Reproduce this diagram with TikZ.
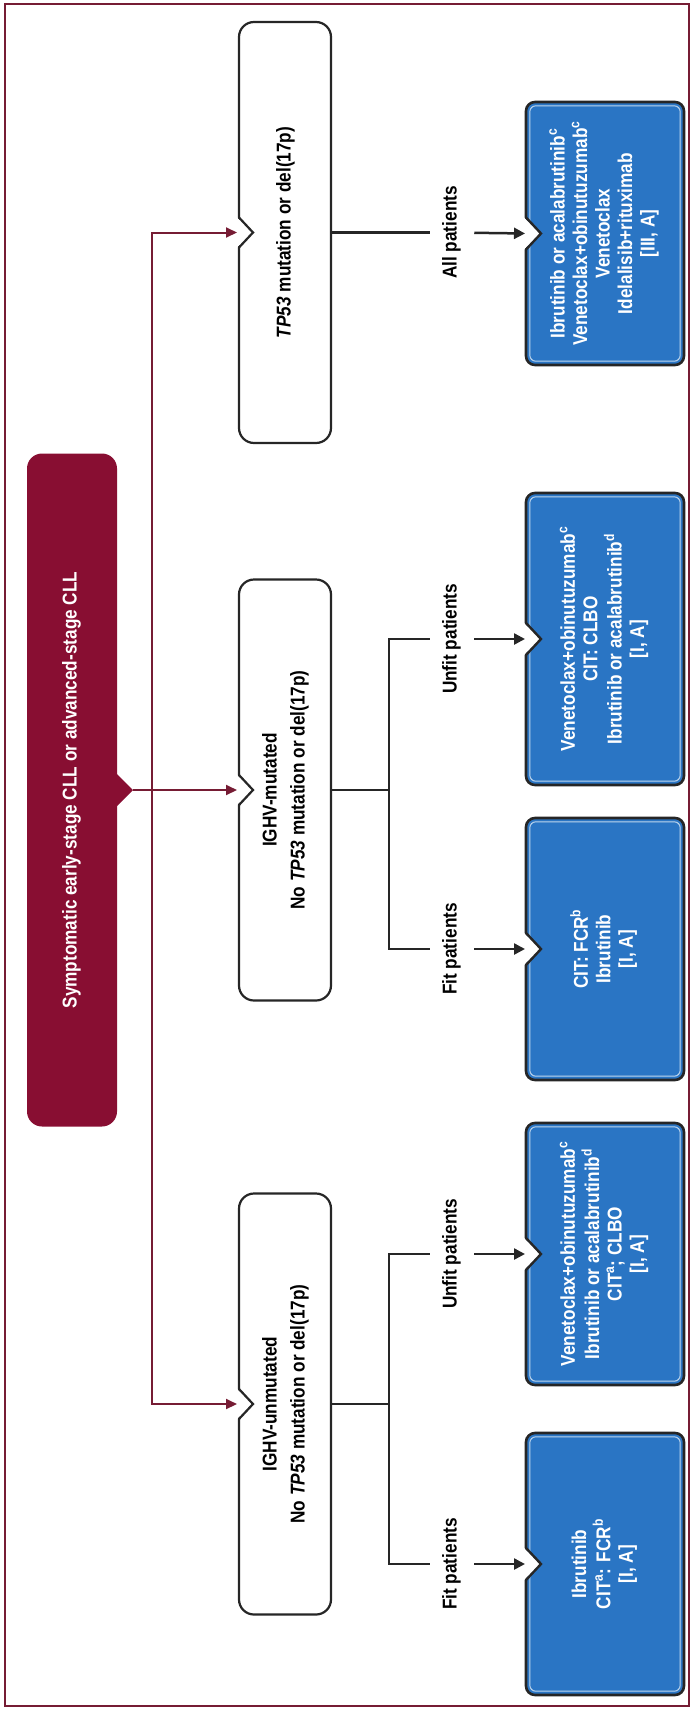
\documentclass[tikz,border=0pt]{standalone}
\usepackage{graphicx}
\usepackage{fontspec}
\setmainfont{Liberation Sans}[FakeStretch=0.86]
\usetikzlibrary{arrows.meta}
\definecolor{cmaroon}{RGB}{136,14,50}
\definecolor{cmline}{RGB}{118,28,52}
\definecolor{cblue}{RGB}{42,117,196}
\definecolor{cdark}{RGB}{38,38,38}
\newcommand\myrot[2]{\rotatebox{90}{\fontsize{20}{#1}\selectfont\bfseries\begin{tabular}{@{}c@{}}#2\end{tabular}}}
\begin{document}
\begin{tikzpicture}[x=1pt,y=-1pt,
  wbox/.style={draw=cdark, line width=2.2, fill=white, rounded corners=15, minimum width=92, minimum height=421, inner sep=0, outer sep=0},
  bbox/.style={draw=cdark, line width=2.6, fill=cblue, rounded corners=9, minimum width=158, inner sep=0, outer sep=0, text=white},
  rbox/.style={fill=cmaroon, rounded corners=15, minimum width=90, minimum height=673, inner sep=0, outer sep=0, text=white},
  lbl/.style={fill=white, inner xsep=11, inner ysep=0, outer sep=0},
  bline/.style={draw=cdark, line width=2.5},
  barrow/.style={bline, -{Triangle[length=11pt,width=11pt]}, shorten >=1pt},
  marrow/.style={draw=cmline, line width=2, -{Triangle[length=11pt,width=10pt]}, shorten >=2pt},
  notchln/.style={draw=cdark, line width=2.4, line join=miter},
  innerln/.style={draw=white!70!cblue, line width=1, rounded corners=6}]
\useasboundingbox (0,0) rectangle (693,1710);
\draw[cmline, line width=2] (5,4) rectangle (689,1706);

% root
\node[rbox] (root) at (72,790) {\myrot{22.5}{Symptomatic early-stage CLL or advanced-stage CLL}};
\fill[cmaroon] (116,773) -- (133,790) -- (116,807) -- cycle;
\coordinate (roottip) at (133,790);
\coordinate (spine) at (152,790);

% white boxes
\node[wbox] (tp53) at (285,232.5) {\myrot{28}{\textit{TP53} mutation or del(17p)}};
\node[wbox] (mut) at (285,790) {\myrot{28}{IGHV-mutated\\No \textit{TP53} mutation or del(17p)}};
\node[wbox] (unm) at (285,1404) {\myrot{28}{IGHV-unmutated\\No \textit{TP53} mutation or del(17p)}};
\foreach \n in {tp53,mut,unm}{
  \fill[white] ([shift={(-2,-15)}]\n.west) -- ([shift={(14,0)}]\n.west) -- ([shift={(-2,15)}]\n.west) -- cycle;
  \draw[notchln, line width=2.2] ([shift={(0,-15)}]\n.west) -- ([shift={(14,0)}]\n.west) -- ([shift={(0,15)}]\n.west);
}

% blue boxes
\node[bbox, minimum height=263] (ball) at (605,233.5) {\myrot{22.5}{Ibrutinib or acalabrutinib\textsuperscript{c}\\Venetoclax+obinutuzumab\textsuperscript{c}\\Venetoclax\\Idelalisib+rituximab\\{[III, A]}}};
\node[bbox, minimum height=292] (bmu) at (605,639) {\myrot{22.5}{Venetoclax+obinutuzumab\textsuperscript{c}\\CIT: CLBO\\Ibrutinib or acalabrutinib\textsuperscript{d}\\{[I, A]}}};
\node[bbox, minimum height=262] (bmf) at (605,949) {\myrot{22.5}{CIT: FCR\textsuperscript{b}\\Ibrutinib\\{[I, A]}}};
\node[bbox, minimum height=262] (buu) at (605,1254) {\myrot{22.5}{Venetoclax+obinutuzumab\textsuperscript{c}\\Ibrutinib or acalabrutinib\textsuperscript{d}\\CIT\textsuperscript{a}; CLBO\\{[I, A]}}};
\node[bbox, minimum height=262] (buf) at (605,1564) {\myrot{22.5}{Ibrutinib\\CIT\textsuperscript{a}: FCR\textsuperscript{b}\\{[I, A]}}};
\foreach \n in {ball,bmu,bmf,buu,buf}{
  \draw[innerln] ([shift={(3.8,3.8)}]\n.north west) rectangle ([shift={(-3.8,-3.8)}]\n.south east);
  \fill[white] ([shift={(-2,-16)}]\n.west) -- ([shift={(15,0)}]\n.west) -- ([shift={(-2,16)}]\n.west) -- cycle;
  \draw[notchln] ([shift={(0,-16)}]\n.west) -- ([shift={(15,0)}]\n.west) -- ([shift={(0,16)}]\n.west);
}

% labels
\node[lbl] (lall) at (452,232.5) {\myrot{22.5}{All patients}};
\node[lbl] (lmu) at (452,639) {\myrot{22.5}{Unfit patients}};
\node[lbl] (lmf) at (452,949) {\myrot{22.5}{Fit patients}};
\node[lbl] (luu) at (452,1254) {\myrot{22.5}{Unfit patients}};
\node[lbl] (luf) at (452,1564) {\myrot{22.5}{Fit patients}};

% maroon connectors
\draw[marrow] (roottip) -- (mut.west);
\draw[marrow] (spine) |- (tp53.west);
\draw[marrow] (spine) |- (unm.west);

% black connectors
\coordinate (mj) at (389,790);
\coordinate (mu) at (389,639);
\coordinate (mf) at (389,949);
\coordinate (uj) at (389,1404);
\coordinate (uu) at (389,1254);
\coordinate (uf) at (389,1564);
\draw[bline] (tp53.east) -- (lall);
\draw[barrow] (lall) -- (ball.west);
\draw[bline] (mut.east) -- (mj);
\draw[bline] (lmu) -- (mu) -- (mf) -- (lmf);
\draw[barrow] (lmu) -- (bmu.west);
\draw[barrow] (lmf) -- (bmf.west);
\draw[bline] (unm.east) -- (uj);
\draw[bline] (luu) -- (uu) -- (uf) -- (luf);
\draw[barrow] (luu) -- (buu.west);
\draw[barrow] (luf) -- (buf.west);
\end{tikzpicture}
\end{document}
